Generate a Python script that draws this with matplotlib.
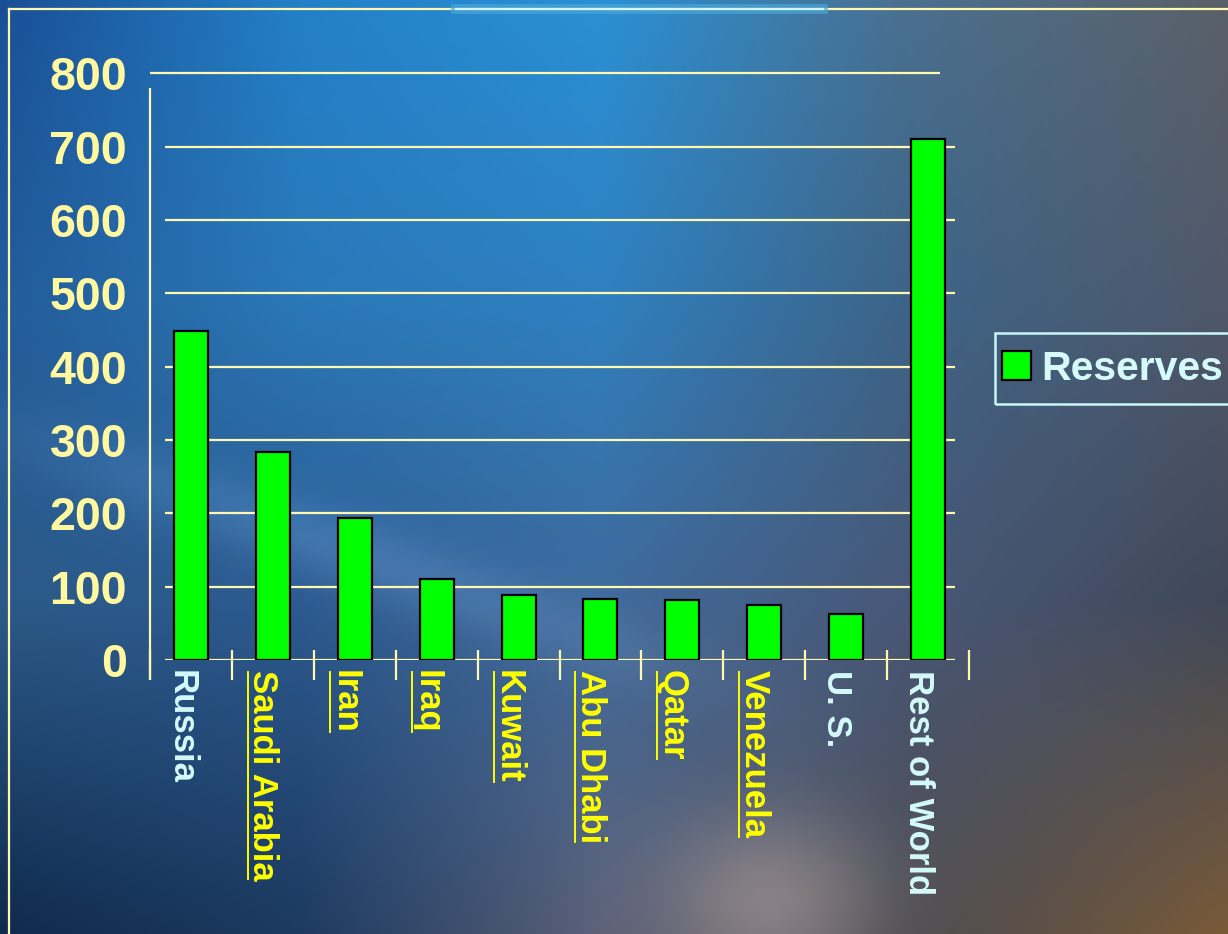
import matplotlib
matplotlib.use('Agg')
import matplotlib.pyplot as plt
import matplotlib.transforms as mtransforms
from matplotlib.lines import Line2D
from matplotlib.patches import Rectangle
import numpy as np

# Данные
countries = ['Russia', 'Saudi Arabia', 'Iran', 'Iraq', 'Kuwait', 'Abu Dhabi',
             'Qatar', 'Venezuela', 'U. S.', 'Rest of World']
reserves = [449, 284, 194, 111, 89, 83, 82, 75, 63, 711]
linked = [False, True, True, True, True, True, True, True, False, False]
y_ticks = [0, 100, 200, 300, 400, 500, 600, 700, 800]
series_name = 'Reserves'

W, H = 1228, 934
plt.rcParams['font.family'] = ['Liberation Sans', 'DejaVu Sans']
plt.rcParams['font.weight'] = 'bold'

fig = plt.figure(figsize=(W / 100, H / 100), dpi=100)

# Фон: градиент по контрольным точкам + мягкое свечение
def hex_rgb(h):
    h = h.lstrip('#')
    return [int(h[i:i + 2], 16) / 255 for i in (0, 2, 4)]

ctrl_x = [0, 300, 600, 900, 1228]
ctrl_y = [0, 300, 600, 934]
ctrl = [
    ['#1a4f96', '#2380c8', '#2a90d5', '#4a7090', '#5a6068'],
    ['#235c9a', '#2a78b8', '#2f80c0', '#3c6488', '#50586a'],
    ['#2c5a88', '#2c5a90', '#3e6a9c', '#485878', '#404858'],
    ['#0f2a4c', '#1d3a60', '#5a6078', '#4a4a50', '#7a5a38'],
]
ctrl = np.array([[hex_rgb(c) for c in row] for row in ctrl])
xs = np.arange(W)
ys = np.arange(H)
rows = np.zeros((len(ctrl_y), W, 3))
for i in range(len(ctrl_y)):
    for k in range(3):
        rows[i, :, k] = np.interp(xs, ctrl_x, ctrl[i, :, k])
img = np.zeros((H, W, 3))
for j in range(W):
    for k in range(3):
        img[:, j, k] = np.interp(ys, ctrl_y, rows[:, j, k])
XX, YY = np.meshgrid(xs, ys)
glow = np.exp(-(((XX - 770) / 110) ** 2 + ((YY - 900) / 90) ** 2))
img = img * (1 - 0.5 * glow[..., None]) + 0.5 * glow[..., None] * np.array(hex_rgb('#c0aca4'))
streak = np.exp(-((YY - (430 + 0.35 * XX)) / 40) ** 2) * np.exp(-((XX - 350) / 300) ** 2)
img = np.clip(img + 0.08 * streak[..., None], 0, 1)

ax_bg = fig.add_axes([0, 0, 1, 1], zorder=-1)
ax_bg.imshow(img, aspect='auto', extent=[0, W, H, 0])
ax_bg.set_axis_off()

# Основные оси
left, right, top, bottom = 150, 969, 73.3, 660
ax = fig.add_axes([left / W, (H - bottom) / H, (right - left) / W, (bottom - top) / H])
ax.set_facecolor('none')
ax.set_xlim(-0.5, 9.5)
ax.set_ylim(0, 800)
for s in ax.spines.values():
    s.set_visible(False)

grid_col = '#fff8b0'
x = np.arange(len(countries))
ax.hlines(y_ticks[:-1], -0.317, 9.33, color=grid_col, lw=1.6, zorder=1)
ax.hlines(y_ticks[-1], -0.5, 9.146, color=grid_col, lw=1.6, zorder=1, clip_on=False)
ax.vlines(-0.5, -27, 780, color=grid_col, lw=1.6, clip_on=False)
ax.vlines(np.arange(-0.5, len(countries)), -27, 13.6, color=grid_col, lw=1.6, clip_on=False)

bars = ax.bar(x, reserves, width=0.415, color='#00ff00', edgecolor='black',
              linewidth=1.6, zorder=3, label=series_name)

ax.set_yticks(y_ticks)
ax.set_yticklabels([str(v) for v in y_ticks], fontsize=33.5, fontweight='bold', color='#fff8a0')
ax.tick_params(axis='y', length=0, pad=16.5)
ax.set_xticks(x)
ax.set_xticklabels(countries, rotation=270, fontsize=25, fontweight='bold')
ax.tick_params(axis='x', length=0, pad=7)
offset = mtransforms.ScaledTranslation(-10 / 100, 0, fig.dpi_scale_trans)
for lab, is_link in zip(ax.get_xticklabels(), linked):
    lab.set_color('#ffff00' if is_link else '#d4fafa')
    lab.set_transform(lab.get_transform() + offset)

# Легенда
leg = ax.legend(loc='center left', bbox_to_anchor=(995 / W, (H - 368.5) / H),
                bbox_transform=fig.transFigure, fontsize=29.5, frameon=False,
                handlelength=0.7, handleheight=0.72, handletextpad=0.26,
                borderpad=0.17, borderaxespad=0)
for t in leg.get_texts():
    t.set_color('#d4fafa')
    t.set_fontweight('bold')
fig.add_artist(Rectangle((995 / W, (H - 404) / H), 260 / W, 71 / H, fill=False,
                         edgecolor='#c8f8f8', lw=1.8, transform=fig.transFigure))

# Рамка слайда
fy = 1 - 9 / H
fx = 9 / W
fig.add_artist(Line2D([fx, 1], [fy, fy], color=grid_col, lw=1.6, transform=fig.transFigure))
fig.add_artist(Line2D([fx, fx], [0, fy], color=grid_col, lw=1.6, transform=fig.transFigure))
fig.add_artist(Line2D([456 / W, 823 / W], [fy, fy], color='#4aa8d8', lw=7, alpha=0.7,
                      transform=fig.transFigure))
fig.add_artist(Line2D([456 / W, 823 / W], [fy, fy], color='#d8f4f0', lw=1.6,
                      transform=fig.transFigure))

# Подчёркивание гиперссылок
fig.canvas.draw()
renderer = fig.canvas.get_renderer()
inv = fig.transFigure.inverted()
for lab, is_link in zip(ax.get_xticklabels(), linked):
    if not is_link:
        continue
    bb = lab.get_window_extent(renderer)
    ux = bb.x0 + 1.5
    p0 = inv.transform((ux, bb.y0 + 1))
    p1 = inv.transform((ux, bb.y1 - 2))
    fig.add_artist(Line2D([p0[0], p1[0]], [p0[1], p1[1]], color='#ffff00', lw=1.4,
                          transform=fig.transFigure))

fig.savefig('out.png', dpi=100)
